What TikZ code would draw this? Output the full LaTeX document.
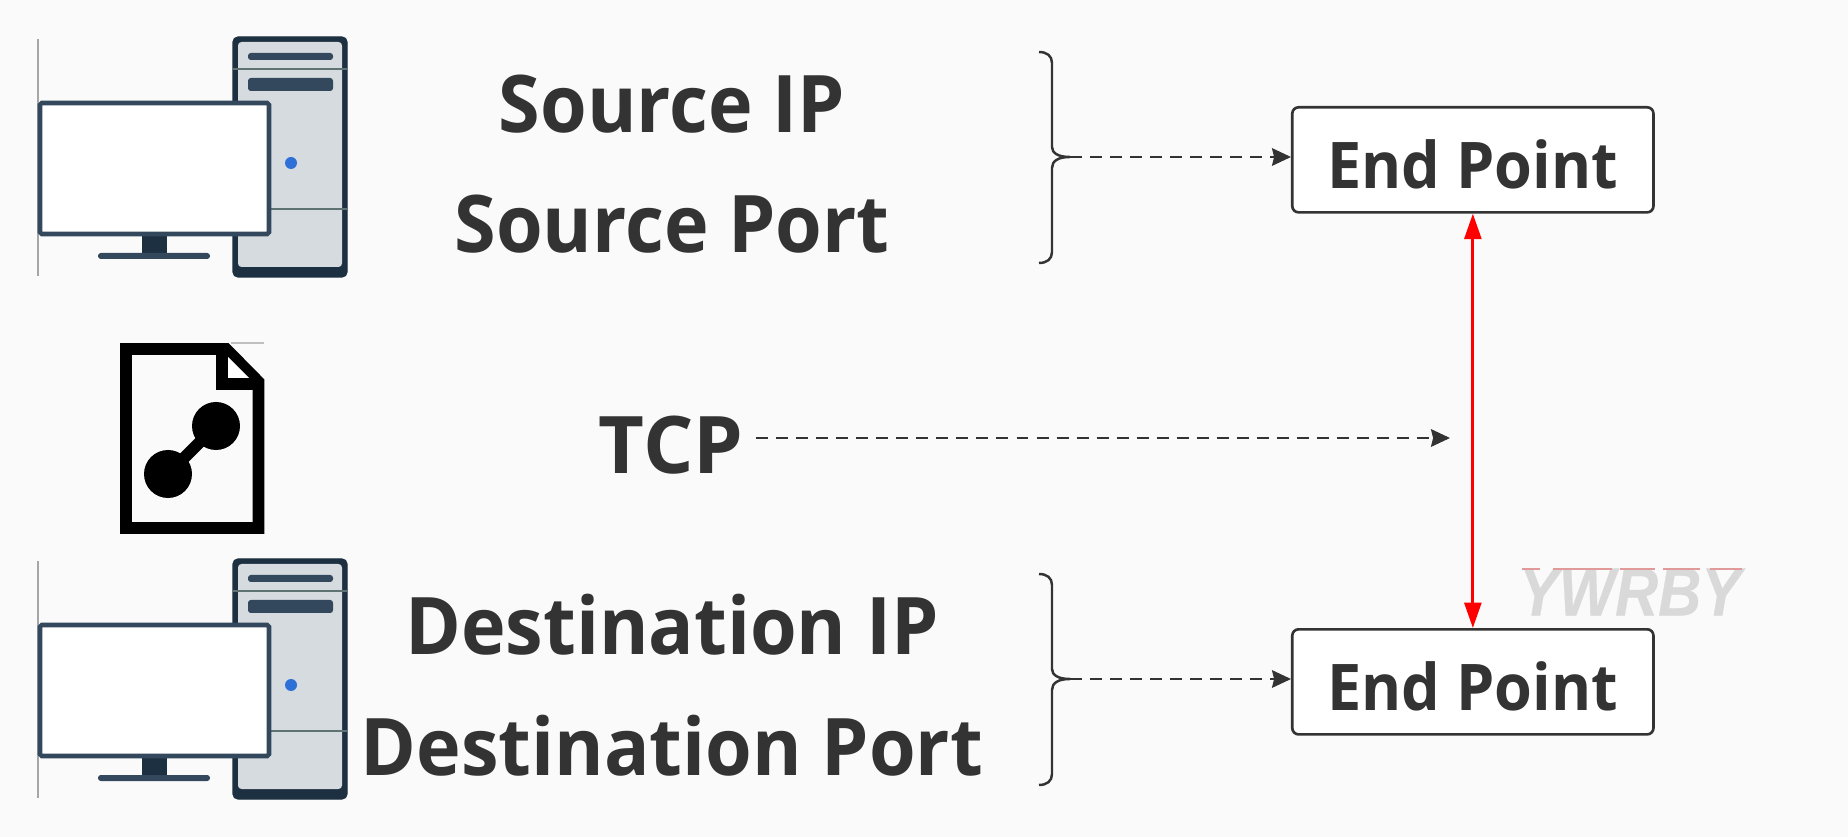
\documentclass[tikz,border=0pt]{standalone}
\usepackage{fontspec}
\usepackage{tikz}
\usetikzlibrary{arrows.meta}
\setmainfont{Open Sans}
\newfontfamily\markfont[FakeBold=0.35]{Liberation Sans Bold Italic}
\definecolor{page}{HTML}{FAFAFA}
\definecolor{ink}{HTML}{333333}
\definecolor{casing}{HTML}{1C3041}
\definecolor{screen}{HTML}{33485C}
\definecolor{panel}{HTML}{D6DBE0}
\definecolor{seam}{HTML}{5F7372}
\definecolor{led}{HTML}{2F6FD8}
\definecolor{markgray}{HTML}{D9D9D9}
\definecolor{markred}{HTML}{E09A9A}
\tikzset{
    label/.style={font=\fontsize{22.6}{26}\selectfont\bfseries, text=ink, anchor=base, inner sep=3.4pt, xscale=0.95},
    endpoint/.style={draw=ink, line width=0.75pt, fill=white, rounded corners=1.8pt, text=ink,
        font=\fontsize{18.3}{22}\selectfont\bfseries, anchor=north west, minimum width=3.61cm, minimum height=1.05cm,
        inner sep=0pt, text height=16.5pt, text depth=0pt},
    link/.style={draw=ink, line width=0.6pt, dash pattern=on 3.4pt off 2.3pt, -{Stealth[length=5.4pt,width=5pt,inset=0.6pt]}},
    session/.style={draw=red, line width=0.8pt, {Stealth[length=7.2pt,width=4.8pt,inset=0pt]}-{Stealth[length=7.2pt,width=4.8pt,inset=0pt]}},
    computer/.pic={
        % tower
        \draw[gray!70, line width=0.35pt] (38,39) -- (38,276);
        \filldraw[draw=casing, fill=casing, rounded corners=1.5pt] (233,37) rectangle (347,277);
        \fill[panel, rounded corners=1pt] (238,42) rectangle (342,267);
        \fill[screen, rounded corners=0.8pt] (248,53) rectangle (333,60);
        \fill[screen, rounded corners=0.8pt] (248,78) rectangle (333,91);
        \draw[seam, line width=0.5pt] (233,69) -- (347,69);
        \draw[seam, line width=0.5pt] (268,209) -- (347,209);
        \fill[led] (291,163) circle (6);
        % monitor
        \fill[casing] (142,236) rectangle (167,253);
        \fill[screen, rounded corners=0.8pt] (98,253) rectangle (210,259);
        \filldraw[draw=screen, fill=white, line width=1.3pt, rounded corners=0.5pt] (40,103) rectangle (269,234);
    },
    bracket/.pic={
        \draw[ink, line width=0.7pt] (1039,52) .. controls (1047,52) and (1052,56) .. (1052,63) -- (1052,147)
            .. controls (1052,153) and (1058,157) .. (1070,157) .. controls (1058,157) and (1052,161) .. (1052,168)
            -- (1052,252) .. controls (1052,259) and (1047,263) .. (1039,263);
        \coordinate (-tip) at (1070,157);
    },
}
\begin{document}
\begin{tikzpicture}[x=0.01cm, y=-0.01cm, >=stealth]
    \fill[page] (0,0) rectangle (1848,837);
    % Hosts
    \pic at (0,0) {computer};
    \pic at (0,522) {computer};
    % Packet file
    \draw[gray!50, line width=0.3pt] (231,343) -- (264,343);
    \draw[black, line width=3.4pt, miter limit=10] (126,349) -- (226,349) -- (258.5,382) -- (258.5,528) -- (126,528) -- cycle;
    \draw[black, line width=3.4pt] (222,349) -- (222,384) -- (258,384);
    \fill[white] (228,357) -- (228,378) -- (249,378) -- cycle;
    \draw[black, line width=3.4pt] (216,426) -- (168,474);
    \fill[black] (216,426) circle (24);
    \fill[black] (168,474) circle (24);
    % Tuple fields
    \node[label] (srcip) at (672,133) {Source IP};
    \node[label] (srcport) at (672,253) {Source Port};
    \node[label, xscale=1.05] (tcp) at (671,474) {TCP};
    \node[label] (dstip) at (672,655) {Destination IP};
    \node[label] (dstport) at (672,775) {Destination Port};
    % End points
    \node[endpoint, xscale=0.95, minimum width=3.8cm] (upend) at (1291,106) {End Point};
    \node[endpoint, xscale=0.95, minimum width=3.8cm] (downend) at (1291,628) {End Point};
    \pic (upbrace) at (0,0) {bracket};
    \pic (downbrace) at (0,522) {bracket};
    \coordinate (tcpend) at (1450,438);
    \draw[link] (upbrace-tip) -- (upbrace-tip -| upend.west);
    \draw[link] (downbrace-tip) -- (downbrace-tip -| downend.west);
    \draw[link] (tcp.east |- tcpend) -- (tcpend);
    \draw[session] (upend.south) -- (downend.north);
    % Watermark
    \node[text=markgray, font=\fontsize{19.5}{22}\markfont, xscale=0.87, inner sep=0pt] (stamp) at (1630,592) {YWRBY};
    \draw[markred, line width=0.4pt] (1522,569) -- (1540,569) (1553,569) -- (1612,569) (1620,569) -- (1655,569)
        (1663,569) -- (1700,569) (1710,569) -- (1742,569);
\end{tikzpicture}
\end{document}
